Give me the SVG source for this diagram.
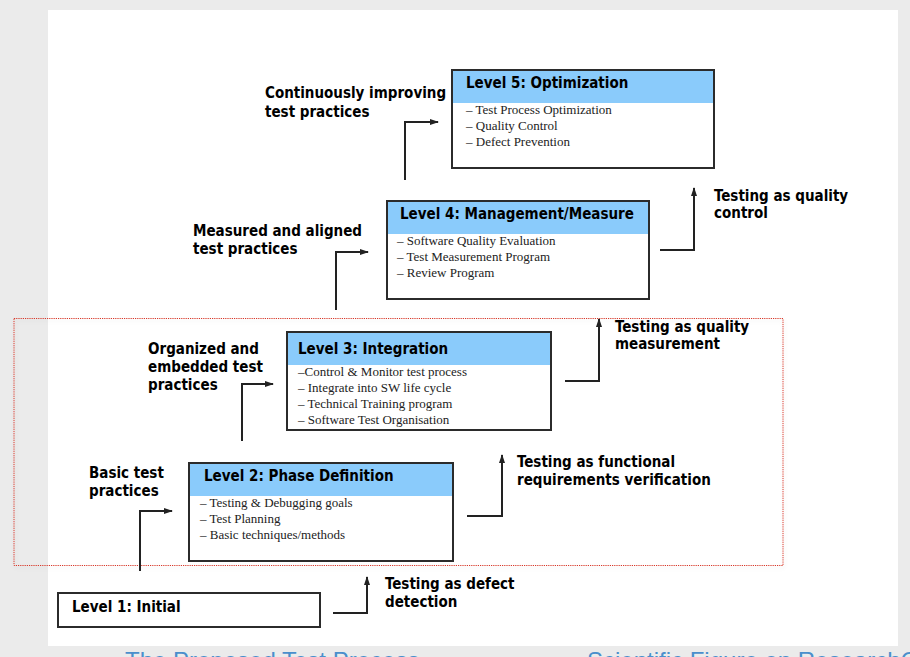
<svg xmlns="http://www.w3.org/2000/svg" width="910" height="657" viewBox="0 0 910 657">
<defs>
<style>
.bg{fill:#ebebeb}
.panel{fill:#ffffff}
.box{fill:#ffffff;stroke:#2b2b2b;stroke-width:2}
.hdr{fill:#8acbfb}
.ht{font-family:"DejaVu Sans Condensed","DejaVu Sans",sans-serif;font-stretch:condensed;font-weight:bold;font-size:15px;fill:#000}
.lbl{font-family:"DejaVu Sans Condensed","DejaVu Sans",sans-serif;font-stretch:condensed;font-weight:bold;font-size:15px;fill:#000}
.it{font-family:"Liberation Serif",serif;font-size:13px;fill:#222}
.con{fill:none;stroke:#222;stroke-width:2;marker-end:url(#ah)}
.sel{fill:none;stroke:#d8382a;stroke-width:1;stroke-dasharray:1.2 1}
.cap{font-family:"Liberation Sans",Arial,sans-serif;font-size:24px;fill:#4a8fcc}
</style>
<marker id="ah" markerWidth="9" markerHeight="6" refX="8" refY="3" orient="auto" markerUnits="userSpaceOnUse">
<path d="M0,0 L9,3 L0,6 z" fill="#222"/>
</marker>
<filter id="sh" x="-5%" y="-5%" width="110%" height="110%">
<feDropShadow dx="1" dy="2" stdDeviation="2" flood-color="#000" flood-opacity="0.12"/>
</filter>
</defs>
<rect class="bg" x="0" y="0" width="910" height="657"/>
<rect class="panel" x="48" y="10" width="850" height="636"/>
<text class="cap" x="125" y="669">The Proposed Test Process</text>
<text class="cap" x="587" y="669">Scientific Figure on ResearchGate</text>

<rect class="sel" x="14" y="318.5" width="769" height="247" filter="url(#sh)"/>

<g id="level5">
<rect class="box" x="452" y="70" width="262" height="98"/>
<rect class="hdr" x="453" y="71" width="260" height="32"/>
<text class="ht" x="466" y="88">Level 5: Optimization</text>
<text class="it" x="466" y="114">– Test Process Optimization</text>
<text class="it" x="466" y="130">– Quality Control</text>
<text class="it" x="466" y="146">– Defect Prevention</text>
</g>
<g id="level4">
<rect class="box" x="387" y="201" width="262" height="98"/>
<rect class="hdr" x="388" y="202" width="260" height="32"/>
<text class="ht" x="400" y="219">Level 4: Management/Measure</text>
<text class="it" x="397" y="245">– Software Quality Evaluation</text>
<text class="it" x="397" y="261">– Test Measurement Program</text>
<text class="it" x="397" y="277">– Review Program</text>
</g>
<g id="level3">
<rect class="box" x="287" y="332" width="264" height="98"/>
<rect class="hdr" x="288" y="333" width="262" height="32"/>
<text class="ht" x="298" y="354">Level 3: Integration</text>
<text class="it" x="298" y="376">–Control &amp; Monitor test process</text>
<text class="it" x="298" y="392">– Integrate into SW life cycle</text>
<text class="it" x="298" y="408">– Technical Training program</text>
<text class="it" x="298" y="424">– Software Test Organisation</text>
</g>
<g id="level2">
<rect class="box" x="189" y="463" width="264" height="98"/>
<rect class="hdr" x="190" y="464" width="262" height="32"/>
<text class="ht" x="204" y="481">Level 2: Phase Definition</text>
<text class="it" x="200" y="507">– Testing &amp; Debugging goals</text>
<text class="it" x="200" y="523">– Test Planning</text>
<text class="it" x="200" y="539">– Basic techniques/methods</text>
</g>
<g id="level1">
<rect class="box" x="58" y="593" width="262" height="34"/>
<text class="ht" x="72" y="612">Level 1: Initial</text>
</g>

<g id="labels">
<text class="lbl" x="265" y="98">Continuously improving</text>
<text class="lbl" x="265" y="117">test practices</text>
<text class="lbl" x="193" y="236">Measured and aligned</text>
<text class="lbl" x="193" y="254">test practices</text>
<text class="lbl" x="148" y="354">Organized and</text>
<text class="lbl" x="148" y="372">embedded test</text>
<text class="lbl" x="148" y="390">practices</text>
<text class="lbl" x="89" y="478">Basic test</text>
<text class="lbl" x="89" y="496">practices</text>
<text class="lbl" x="714" y="201">Testing as quality</text>
<text class="lbl" x="714" y="218">control</text>
<text class="lbl" x="615" y="332">Testing as quality</text>
<text class="lbl" x="615" y="349">measurement</text>
<text class="lbl" x="517" y="467">Testing as functional</text>
<text class="lbl" x="517" y="485">requirements verification</text>
<text class="lbl" x="385" y="589">Testing as defect</text>
<text class="lbl" x="385" y="607">detection</text>
</g>

<g id="connectors">
<path class="con" d="M405,180 V122 H438"/>
<path class="con" d="M336,310 V252 H368"/>
<path class="con" d="M242,441 V384 H273"/>
<path class="con" d="M140,571 V511 H172"/>
<path class="con" d="M333,613 H367 V577"/>
<path class="con" d="M467,516 H502 V455"/>
<path class="con" d="M565,381 H599 V319"/>
<path class="con" d="M660,250 H694 V188"/>
</g>
</svg>
